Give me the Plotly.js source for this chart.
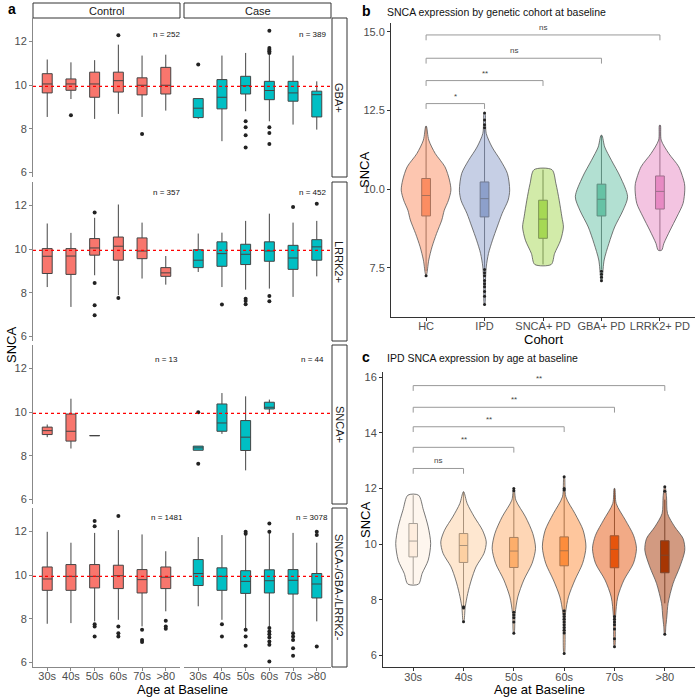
<!DOCTYPE html>
<html>
<head>
<meta charset="utf-8">
<script src="https://cdn.plot.ly/plotly-3.0.1.min.js"></script>
<style>
  html, body { margin: 0; padding: 0; background: #fff; }
  #plot { width: 700px; height: 698px; }
</style>
</head>
<body>
<div id="plot"></div>
<script>
// ---- panel a: SNCA by age, control vs case, per genetic cohort ----
const ages = ['30s', '40s', '50s', '60s', '70s', '>80'];
const facetRows = ['GBA+', 'LRRK2+', 'SNCA+', 'SNCA-/GBA-/LRRK2-'];
const groups = ['Control', 'Case'];
const controlN = [252, 357, 13, 1481];
const caseN = [389, 452, 44, 3078];
const refLine = 9.95;

// box stats by age: lower whisker, q1, median, q3, upper whisker
const gbaControl = {
  lo:  [8.55, 9.37, 8.46, 8.69, 8.55, 8.84],
  q1:  [9.65, 9.77, 9.45, 9.69, 9.56, 9.60],
  med: [10.06, 10.06, 10.06, 10.21, 10.00, 10.00],
  q3:  [10.53, 10.29, 10.60, 10.60, 10.34, 10.82],
  hi:  [11.18, 11.05, 11.15, 11.86, 11.36, 11.40]
};
const gbaControlOut = [[], [8.63], [], [12.29], [7.77], []];
const gbaCase = {
  lo:  [8.46, 7.44, 8.81, 8.35, 8.20, 7.97],
  q1:  [8.52, 8.92, 9.60, 9.34, 9.27, 8.55],
  med: [8.95, 9.45, 9.98, 9.76, 9.65, 9.57],
  q3:  [9.39, 10.26, 10.41, 10.18, 10.18, 9.73],
  hi:  [9.39, 11.36, 11.48, 11.40, 11.36, 10.18]
};
const gbaCaseOut = [[10.95], [], [8.35, 8.08, 7.71, 7.15], [12.50, 11.71, 11.63, 11.56, 11.48, 8.08, 7.82, 7.31], [], []];

const lrrkControl = {
  lo:  [8.27, 7.36, 8.81, 7.90, 8.66, 8.38],
  q1:  [8.89, 8.85, 9.73, 9.50, 9.57, 8.76],
  med: [9.68, 9.69, 10.06, 10.14, 9.92, 8.92],
  q3:  [10.03, 10.03, 10.49, 10.56, 10.52, 9.16],
  hi:  [11.18, 10.75, 11.44, 12.05, 11.22, 9.69]
};
const lrrkControlOut = [[], [], [11.68, 8.46, 7.44, 6.98], [7.77], [], []];
const lrrkCase = {
  lo:  [8.96, 8.27, 8.15, 8.20, 7.82, 8.76],
  q1:  [9.16, 9.22, 9.30, 9.45, 9.08, 9.50],
  med: [9.50, 9.80, 9.77, 9.92, 9.60, 10.11],
  q3:  [9.98, 10.34, 10.23, 10.34, 10.18, 10.44],
  hi:  [10.72, 10.76, 11.30, 11.63, 11.22, 11.30]
};
const lrrkCaseOut = [[], [7.47], [7.74, 7.63, 7.48], [7.86, 7.62], [11.94], [12.08]];

const sncaControl = {
  lo:  [8.86, 8.34, 8.93, null, null, null],
  q1:  [8.98, 8.68, 8.93, null, null, null],
  med: [9.16, 9.13, 8.93, null, null, null],
  q3:  [9.32, 9.92, 8.93, null, null, null],
  hi:  [9.44, 10.62, 8.93, null, null, null]
};
const sncaControlOut = [[], [], [], [], [], []];
const sncaCase = {
  lo:  [8.26, 9.01, 7.34, 9.92, null, null],
  q1:  [8.26, 9.13, 8.25, 10.15, null, null],
  med: [8.37, 9.51, 8.86, 10.23, null, null],
  q3:  [8.45, 10.38, 9.62, 10.46, null, null],
  hi:  [8.45, 10.88, 10.73, 10.58, null, null]
};
const sncaCaseOut = [[10.00, 7.64], [], [], [], [], []];

const otherControl = {
  lo:  [7.78, 7.81, 7.89, 7.96, 7.66, 8.35],
  q1:  [9.31, 9.31, 9.42, 9.39, 9.19, 9.39],
  med: [9.83, 9.95, 9.95, 9.98, 9.80, 9.91],
  q3:  [10.38, 10.49, 10.49, 10.46, 10.26, 10.38],
  hi:  [11.99, 11.49, 11.94, 12.07, 11.87, 11.10]
};
const otherControlOut = [[], [], [12.48, 12.25, 7.76, 7.66, 7.20], [12.71, 7.66, 7.35, 7.20], [7.50, 7.04, 6.94], [7.92, 7.66, 7.55]];
const otherCase = {
  lo:  [8.58, 7.96, 7.58, 7.66, 7.43, 7.89],
  q1:  [9.53, 9.31, 9.17, 9.19, 9.14, 8.96],
  med: [10.08, 9.95, 9.72, 9.75, 9.77, 9.60],
  q3:  [10.72, 10.34, 10.21, 10.25, 10.26, 10.08],
  hi:  [11.75, 11.84, 11.94, 11.94, 11.94, 11.49]
};
const otherCaseOut = [[], [7.76, 7.20], [11.99, 11.90, 7.50, 7.20, 6.77], [12.37, 11.99, 7.58, 7.43, 7.30, 7.15, 6.97, 6.82, 6.05], [7.35, 7.20, 7.04, 6.66, 6.31], [11.99, 11.84, 6.74]];

// ---- panel b: SNCA by genetic cohort ----
const cohorts = ['HC', 'IPD', 'SNCA+ PD', 'GBA+ PD', 'LRRK2+ PD'];
const cohortLo  = [7.40, 7.50, 7.61, 7.45, 8.06];
const cohortQ1  = [9.15, 9.12, 8.44, 9.15, 9.37];
const cohortMed = [9.80, 9.70, 9.05, 9.68, 9.93];
const cohortQ3  = [10.34, 10.23, 9.65, 10.16, 10.42];
const cohortHi  = [12.00, 11.90, 10.62, 11.71, 12.03];
const cohortOut = [[7.25], [12.42, 12.20, 12.05, 11.95, 7.45, 7.35, 7.25, 7.10, 7.00, 6.90, 6.75, 6.60, 6.34], [], [7.39, 7.30, 7.20, 7.09], []];
// violin outlines: SNCA level and half width (in category units)
const cohortDensY = [
  [12.00, 11.56, 11.13, 10.71, 10.29, 9.97, 9.65, 9.33, 9.02, 8.59, 8.17, 7.75, 7.27],
  [12.42, 12.10, 11.77, 11.34, 10.92, 10.50, 9.97, 9.65, 9.23, 8.80, 8.38, 7.96, 7.53, 7.00, 6.34],
  [10.62, 10.18, 9.65, 9.12, 8.80, 8.38, 7.96, 7.61],
  [11.71, 11.34, 10.92, 10.39, 9.76, 9.33, 8.80, 8.28, 7.75, 7.22, 7.12],
  [12.03, 11.56, 11.13, 10.71, 10.18, 9.97, 9.55, 9.12, 8.70, 8.28, 8.06]
];
const cohortDensW = [
  [0.005, 0.046, 0.158, 0.323, 0.400, 0.425, 0.383, 0.311, 0.269, 0.179, 0.102, 0.046, 0.005],
  [0.008, 0.017, 0.029, 0.128, 0.272, 0.391, 0.430, 0.403, 0.301, 0.216, 0.136, 0.068, 0.029, 0.014, 0.005],
  [0.153, 0.221, 0.277, 0.323, 0.349, 0.301, 0.199, 0.141],
  [0.008, 0.056, 0.170, 0.323, 0.447, 0.369, 0.226, 0.128, 0.046, 0.017, 0.012],
  [0.008, 0.022, 0.153, 0.323, 0.420, 0.425, 0.396, 0.289, 0.175, 0.068, 0.029]
];
const cohortColors = ['#FC8D62', '#8DA0CB', '#A6D854', '#66C2A5', '#E78AC3'];
const cohortComparisons = [[0, 1, 12.72, '*'], [0, 2, 13.45, '**'], [0, 3, 14.16, 'ns'], [0, 4, 14.90, 'ns']];

// ---- panel c: IPD SNCA by age ----
const ipdLo  = [8.56, 7.80, 7.60, 7.65, 7.45, 7.87];
const ipdQ1  = [9.54, 9.34, 9.16, 9.22, 9.15, 8.97];
const ipdMed = [10.11, 9.95, 9.75, 9.76, 9.81, 9.60];
const ipdQ3  = [10.74, 10.38, 10.24, 10.26, 10.30, 10.12];
const ipdHi  = [11.76, 11.88, 11.85, 11.90, 12.00, 11.60];
const ipdOut = [[], [7.75, 7.70, 7.21], [12.00, 11.92, 7.55, 7.45, 7.35, 7.20, 6.79], [12.42, 12.00, 11.95, 7.60, 7.50, 7.40, 7.30, 7.20, 7.10, 7.00, 6.90, 6.80, 6.07], [7.40, 7.30, 7.20, 7.10, 6.95, 6.60, 6.31], [12.06, 11.90, 6.76]];
const ipdDensY = [
  [11.76, 11.22, 10.62, 10.02, 9.42, 8.95, 8.56],
  [11.88, 11.46, 10.98, 10.50, 10.08, 9.67, 9.18, 8.71, 8.23, 7.74, 7.21],
  [12.00, 11.58, 10.98, 10.38, 9.85, 9.31, 8.71, 8.10, 7.51, 6.79],
  [12.42, 11.70, 11.10, 10.50, 9.90, 9.31, 8.71, 8.10, 7.51, 6.07],
  [12.00, 11.46, 10.86, 10.32, 9.85, 9.31, 8.71, 8.10, 7.38, 6.31],
  [12.06, 11.70, 11.10, 10.62, 10.20, 9.78, 9.18, 8.59, 7.87, 7.38, 7.03, 6.76]
];
const ipdDensW = [
  [0.105, 0.204, 0.298, 0.347, 0.298, 0.179, 0.105],
  [0.006, 0.073, 0.214, 0.377, 0.452, 0.407, 0.248, 0.155, 0.085, 0.034, 0.006],
  [0.006, 0.040, 0.232, 0.377, 0.431, 0.363, 0.198, 0.079, 0.026, 0.006],
  [0.006, 0.034, 0.214, 0.377, 0.433, 0.367, 0.214, 0.085, 0.026, 0.006],
  [0.006, 0.034, 0.218, 0.377, 0.437, 0.377, 0.188, 0.065, 0.020, 0.006],
  [0.006, 0.034, 0.054, 0.198, 0.363, 0.397, 0.298, 0.165, 0.065, 0.040, 0.020, 0.006]
];
const ageColors = ['#FEEDDE', '#FDD0A2', '#FDAE6B', '#FD8D3C', '#E6550D', '#A63603'];
const ageComparisons = [[0, 1, 12.72, 'ns'], [0, 2, 13.48, '**'], [0, 3, 14.22, '**'], [0, 4, 14.92, '**'], [0, 5, 15.70, '**']];

// ---------------------------------------------------------------
const W = 700, H = 698;
const px = x => x / W;
const py = y => 1 - y / H;
const FONT = 'Liberation Sans, Arial, sans-serif';
const GREY = '#4d4d4d';

const facetStats = [[gbaControl, gbaCase], [lrrkControl, lrrkCase], [sncaControl, sncaCase], [otherControl, otherCase]];
const facetOut = [[gbaControlOut, gbaCaseOut], [lrrkControlOut, lrrkCaseOut], [sncaControlOut, sncaCaseOut], [otherControlOut, otherCaseOut]];
const groupColors = ['#F8766D', '#00BFC4'];
const rowTops = [18, 182, 345, 508];
const rowH = 159;
const colX = [[33, 180], [184, 331]];

const data = [];
const layout = {
  width: W, height: H,
  margin: {l: 0, r: 0, t: 0, b: 0},
  paper_bgcolor: '#fff', plot_bgcolor: 'rgba(0,0,0,0)',
  showlegend: false,
  font: {family: FONT, color: GREY},
  shapes: [], annotations: []
};

function boxTrace(xs, st, color, width, axis, lineColor) {
  const keep = xs.map((_, i) => i).filter(i => st.q1[i] !== null);
  return {
    type: 'box', x: keep.map(i => xs[i]),
    lowerfence: keep.map(i => st.lo[i]), q1: keep.map(i => st.q1[i]),
    median: keep.map(i => st.med[i]), q3: keep.map(i => st.q3[i]),
    upperfence: keep.map(i => st.hi[i]),
    width: width, whiskerwidth: 0, boxpoints: false,
    fillcolor: color, line: {color: lineColor, width: 1},
    xaxis: 'x' + axis, yaxis: 'y' + axis, hoverinfo: 'skip'
  };
}

function outlierTrace(out, axis, size) {
  const x = [], y = [];
  out.forEach((vals, i) => vals.forEach(v => { x.push(i); y.push(v); }));
  return {
    type: 'scatter', mode: 'markers', x: x, y: y,
    marker: {color: '#222', size: size},
    xaxis: 'x' + axis, yaxis: 'y' + axis, hoverinfo: 'skip'
  };
}

const ax = k => (k === 1 ? '' : k);
const txt = (text, x, y, opts) => layout.annotations.push(Object.assign({
  text: text, xref: 'paper', yref: 'paper', x: px(x), y: py(y),
  xanchor: 'center', yanchor: 'middle', showarrow: false
}, opts));

// panel a facets
facetRows.forEach((rowName, r) => {
  groups.forEach((g, c) => {
    const k = r * 2 + c + 1;
    const s = ax(k);
    const bottom = r === facetRows.length - 1;
    layout['xaxis' + s] = {
      domain: [px(colX[c][0]), px(colX[c][1])], anchor: 'y' + s,
      range: [-0.6, 5.6], tickvals: ages.map((_, i) => i), ticktext: ages, tickangle: 0,
      showticklabels: bottom, showline: bottom, ticks: bottom ? 'outside' : '',
      ticklen: 3, tickcolor: '#888', linecolor: '#888', linewidth: 1, ticklabelstandoff: -4,
      showgrid: false, zeroline: false, tickfont: {size: 11, color: GREY}
    };
    layout['yaxis' + s] = {
      domain: [py(rowTops[r] + rowH), py(rowTops[r])], anchor: 'x' + s,
      range: [5.8, 13.08], tickvals: [6, 8, 10, 12],
      showticklabels: c === 0, showline: c === 0, ticks: c === 0 ? 'outside' : '',
      ticklen: 3, tickcolor: '#888', linecolor: '#888', linewidth: 1,
      showgrid: false, zeroline: false, tickfont: {size: 11, color: GREY}
    };
    data.push(boxTrace(ages.map((_, i) => i), facetStats[r][c], groupColors[c], 0.42, s, '#444'));
    data.push(outlierTrace(facetOut[r][c], s, 4));
    const n = c === 0 ? controlN[r] : caseN[r];
    layout.annotations.push({
      text: 'n = ' + n, xref: 'x' + s, yref: 'y' + s,
      x: c === 0 ? 5.05 : 4.8, y: [12.33, 12.6, 12.43, 12.65][r],
      showarrow: false, font: {size: 8, color: '#111'}
    });
  });
  // reference line across both facets
  layout.shapes.push({
    type: 'line', xref: 'paper', yref: 'y' + ax(r * 2 + 1),
    x0: px(colX[0][0]), x1: px(colX[1][1]), y0: refLine, y1: refLine,
    line: {color: '#ff0000', width: 1.3, dash: 'dot'}
  });
  // right strip
  layout.shapes.push({
    type: 'rect', xref: 'paper', yref: 'paper',
    x0: px(332), x1: px(347), y0: py(rowTops[r] + rowH), y1: py(rowTops[r]),
    line: {color: '#333', width: 1}, fillcolor: '#fff'
  });
  txt(rowName, 339.5, rowTops[r] + rowH / 2, {textangle: 90, font: {size: 11, color: '#1a1a1a'}});
});

// top strips
groups.forEach((g, c) => {
  layout.shapes.push({
    type: 'rect', xref: 'paper', yref: 'paper',
    x0: px(colX[c][0]), x1: px(colX[c][1]), y0: py(18), y1: py(3),
    line: {color: '#333', width: 1}, fillcolor: '#fff'
  });
  txt(g, (colX[c][0] + colX[c][1]) / 2, 10.5, {font: {size: 11, color: '#1a1a1a'}});
});

function violinTrace(pos, ys, ws, color, axis) {
  const x = [], y = [];
  ys.forEach((v, i) => { x.push(pos + ws[i]); y.push(v); });
  for (let i = ys.length - 1; i >= 0; i--) { x.push(pos - ws[i]); y.push(ys[i]); }
  x.push(x[0]); y.push(y[0]);
  return {
    type: 'scatter', mode: 'lines', x: x, y: y, fill: 'toself',
    fillcolor: color, line: {color: '#555', width: 0.8, shape: 'spline', smoothing: 0.8},
    xaxis: 'x' + axis, yaxis: 'y' + axis, hoverinfo: 'skip'
  };
}

function hexA(hex, a) {
  const v = parseInt(hex.slice(1), 16);
  return 'rgba(' + (v >> 16) + ',' + ((v >> 8) & 255) + ',' + (v & 255) + ',' + a + ')';
}

function bracketTraces(comps, drop, axis) {
  comps.forEach(([a, b, yv, lab]) => {
    data.push({
      type: 'scatter', mode: 'lines', x: [a, a, b, b], y: [yv - drop, yv, yv, yv - drop],
      line: {color: '#999', width: 1}, xaxis: 'x' + axis, yaxis: 'y' + axis, hoverinfo: 'skip'
    });
    layout.annotations.push({
      text: lab, xref: 'x' + axis, yref: 'y' + axis, x: (a + b) / 2, y: yv,
      yanchor: 'bottom', yshift: 1, showarrow: false, font: {size: 8, color: '#444'}
    });
  });
}

// panel b
const sb = 9;
layout.xaxis9 = {
  domain: [px(391), px(695)], anchor: 'y9', range: [-0.6, 4.6],
  tickvals: cohorts.map((_, i) => i), ticktext: cohorts, tickangle: 0,
  showline: true, linecolor: '#333', ticks: 'outside', ticklen: 3, tickcolor: '#333', ticklabelstandoff: -4,
  showgrid: false, zeroline: false, tickfont: {size: 11, color: GREY}
};
layout.yaxis9 = {
  domain: [py(316.7), py(23.3)], anchor: 'x9', range: [5.95, 15.27],
  tickvals: [7.5, 10, 12.5, 15], tickformat: '.1f',
  showline: true, linecolor: '#333', ticks: 'outside', ticklen: 3, tickcolor: '#333',
  showgrid: false, zeroline: false, tickfont: {size: 11, color: GREY}
};
cohorts.forEach((c, i) => data.push(violinTrace(i, cohortDensY[i], cohortDensW[i], hexA(cohortColors[i], 0.5), sb)));
cohorts.forEach((c, i) => data.push(boxTrace([i], {lo: [cohortLo[i]], q1: [cohortQ1[i]], med: [cohortMed[i]], q3: [cohortQ3[i]], hi: [cohortHi[i]]}, cohortColors[i], 0.15, sb, '#555')));
data.push(outlierTrace(cohortOut, sb, 3));
bracketTraces(cohortComparisons, 0.17, sb);

// panel c
const sc = 10;
layout.xaxis10 = {
  domain: [px(383), px(695)], anchor: 'y10', range: [-0.6, 5.6],
  tickvals: ages.map((_, i) => i), ticktext: ages, tickangle: 0,
  showline: true, linecolor: '#333', ticks: 'outside', ticklen: 3, tickcolor: '#333', ticklabelstandoff: -4,
  showgrid: false, zeroline: false, tickfont: {size: 11, color: GREY}
};
layout.yaxis10 = {
  domain: [py(667.3), py(371.7)], anchor: 'x10', range: [5.57, 16.2],
  tickvals: [6, 8, 10, 12, 14, 16],
  showline: true, linecolor: '#333', ticks: 'outside', ticklen: 3, tickcolor: '#333',
  showgrid: false, zeroline: false, tickfont: {size: 11, color: GREY}
};
ages.forEach((a, i) => data.push(violinTrace(i, ipdDensY[i], ipdDensW[i], hexA(ageColors[i], 0.5), sc)));
ages.forEach((a, i) => data.push(boxTrace([i], {lo: [ipdLo[i]], q1: [ipdQ1[i]], med: [ipdMed[i]], q3: [ipdQ3[i]], hi: [ipdHi[i]]}, ageColors[i], 0.17, sc, '#555')));
data.push(outlierTrace(ipdOut, sc, 3));
bracketTraces(ageComparisons, 0.19, sc);

// titles and labels
txt('<b>a</b>', 12, 9, {font: {size: 14, color: '#000'}});
txt('<b>b</b>', 366, 11, {font: {size: 14, color: '#000'}});
txt('<b>c</b>', 366, 357, {font: {size: 14, color: '#000'}});
txt('SNCA expression by genetic cohort at baseline', 385, 12, {xanchor: 'left', font: {size: 10.5, color: '#111'}});
txt('IPD SNCA expression by age at baseline', 385, 358, {xanchor: 'left', font: {size: 10.5, color: '#111'}});
txt('SNCA', 11, 345, {textangle: -90, font: {size: 13, color: '#000'}});
txt('Age at Baseline', 182, 689, {font: {size: 13, color: '#000'}});
txt('SNCA', 365, 170, {textangle: -90, font: {size: 13, color: '#000'}});
txt('Cohort', 543, 339, {font: {size: 13, color: '#000'}});
txt('SNCA', 365, 520, {textangle: -90, font: {size: 13, color: '#000'}});
txt('Age at Baseline', 539, 689, {font: {size: 13, color: '#000'}});

Plotly.newPlot('plot', data, layout, {displayModeBar: false, staticPlot: true});
</script>
</body>
</html>
